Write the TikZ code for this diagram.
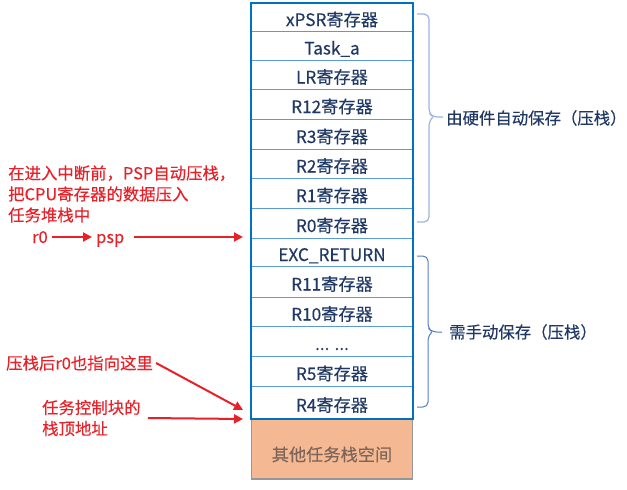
\documentclass[tikz,border=0pt]{standalone}
\usepackage{fontspec}
\setmainfont{Noto Sans CJK SC}[FakeBold=0.25]
\usetikzlibrary{arrows.meta}
\definecolor{outerblue}{RGB}{0,112,192}
\definecolor{cellline}{RGB}{91,155,213}
\definecolor{celltext}{RGB}{31,56,100}
\definecolor{orangefill}{RGB}{244,185,147}
\definecolor{orangeline}{RGB}{150,150,150}
\definecolor{orangetext}{RGB}{125,100,88}
\definecolor{braceA}{RGB}{157,181,224}
\definecolor{braceB}{RGB}{80,125,200}
\definecolor{redc}{RGB}{232,32,40}
\tikzset{
  cell/.style={draw=cellline, line width=0.8pt, minimum width=161pt, inner sep=0pt,
    text=celltext, font=\fontsize{17.2}{20}\selectfont, text height=18pt, text depth=0pt},
  bracetext/.style={text=celltext, font=\fontsize{16.4}{20}\selectfont, inner sep=0pt, anchor=west},
  redtext/.style={text=redc, font=\fontsize{16.4}{21}\selectfont, inner sep=0pt, align=left},
  redarrow/.style={draw=redc, line width=2pt, -{Triangle[length=9pt,width=9pt]}},
  bracelineA/.style={draw=braceA, line width=1.2pt, rounded corners=5pt},
  bracelineB/.style={draw=braceB, line width=1.0pt, rounded corners=5pt}
}
\begin{document}
\begin{tikzpicture}[x=1pt,y=-1pt]
\useasboundingbox[fill=white] (0,0) rectangle (627,490);
% stack cells
\node[cell, minimum height=28pt] (c1) at (332,17) {xPSR寄存器};
\node[cell, minimum height=29pt] (c2) at (332,45.5) {Task\_a\hspace{16pt}};
\node[cell, minimum height=29pt] (c3) at (332,74.5) {LR寄存器};
\node[cell, minimum height=30pt] (c4) at (332,104) {R12寄存器};
\node[cell, minimum height=30pt] (c5) at (332,134) {R3寄存器};
\node[cell, minimum height=29pt] (c6) at (332,163.5) {R2寄存器};
\node[cell, minimum height=30pt] (c7) at (332,193) {R1寄存器};
\node[cell, minimum height=30pt] (c8) at (332,223) {R0寄存器};
\node[cell, minimum height=28pt] (c9) at (332,252) {EXC\_RETURN\hspace{13pt}};
\node[cell, minimum height=31pt] (c10) at (332,281.5) {R11寄存器};
\node[cell, minimum height=29pt] (c11) at (332,311.5) {R10寄存器};
\node[cell, minimum height=30pt] (c12) at (332,341) {... ...\hspace{9pt}};
\node[cell, minimum height=30pt] (c13) at (332,371) {R5寄存器};
\node[cell, minimum height=33pt] (c14) at (332,402.5) {R4寄存器};
\node[cell, draw=orangeline, line width=1.2pt, fill=orangefill, text=orangetext, minimum height=60pt, text height=24pt] (other) at (332,449) {其他任务栈空间\hspace{3pt}};
\draw[outerblue, line width=2pt] (c1.north west) rectangle (c14.south east);
% braces
\draw[bracelineA] (417,14) -- (429,14) -- (429,113) -- (433,117) -- (443,117);
\draw[bracelineA] (417,222) -- (429,222) -- (429,121) -- (433,117);
\node[bracetext] (b1) at (446,118) {由硬件自动保存（压栈）};
\draw[bracelineB] (417,256) -- (428,256) -- (428,328) -- (432,332) -- (442,332);
\draw[bracelineB] (417,407) -- (428,407) -- (428,336) -- (432,332);
\node[bracetext] (b2) at (449,332) {需手动保存（压栈）};
% red annotations
\node[redtext, anchor=west] (n1) at (8,194) {在进入中断前，PSP自动压栈，\\把CPU寄存器的数据压入\\任务堆栈中};
\node[redtext, anchor=base west] (r0) at (32,243) {r0};
\node[redtext, anchor=base west] (psp) at (96,243) {psp};
\coordinate (t0) at (243,237);
\draw[redarrow] ([xshift=4pt,yshift=6pt]r0.base east) -- ([xshift=-4pt,yshift=6pt]psp.base west);
\draw[redarrow] ([xshift=10pt,yshift=6pt]psp.base east) -- (t0);
\node[redtext, anchor=west] (n2) at (6,363) {压栈后r0也指向这里};
\coordinate (t1) at (243,410);
\draw[redarrow] ([xshift=3pt]n2.east) -- (t1);
\node[redtext, anchor=west] (n3) at (42,418) {任务控制块的\\栈顶地址};
\coordinate (t2) at (243,419);
\draw[redarrow] ([xshift=7pt]n3.east) -- (t2);
\end{tikzpicture}
\end{document}
